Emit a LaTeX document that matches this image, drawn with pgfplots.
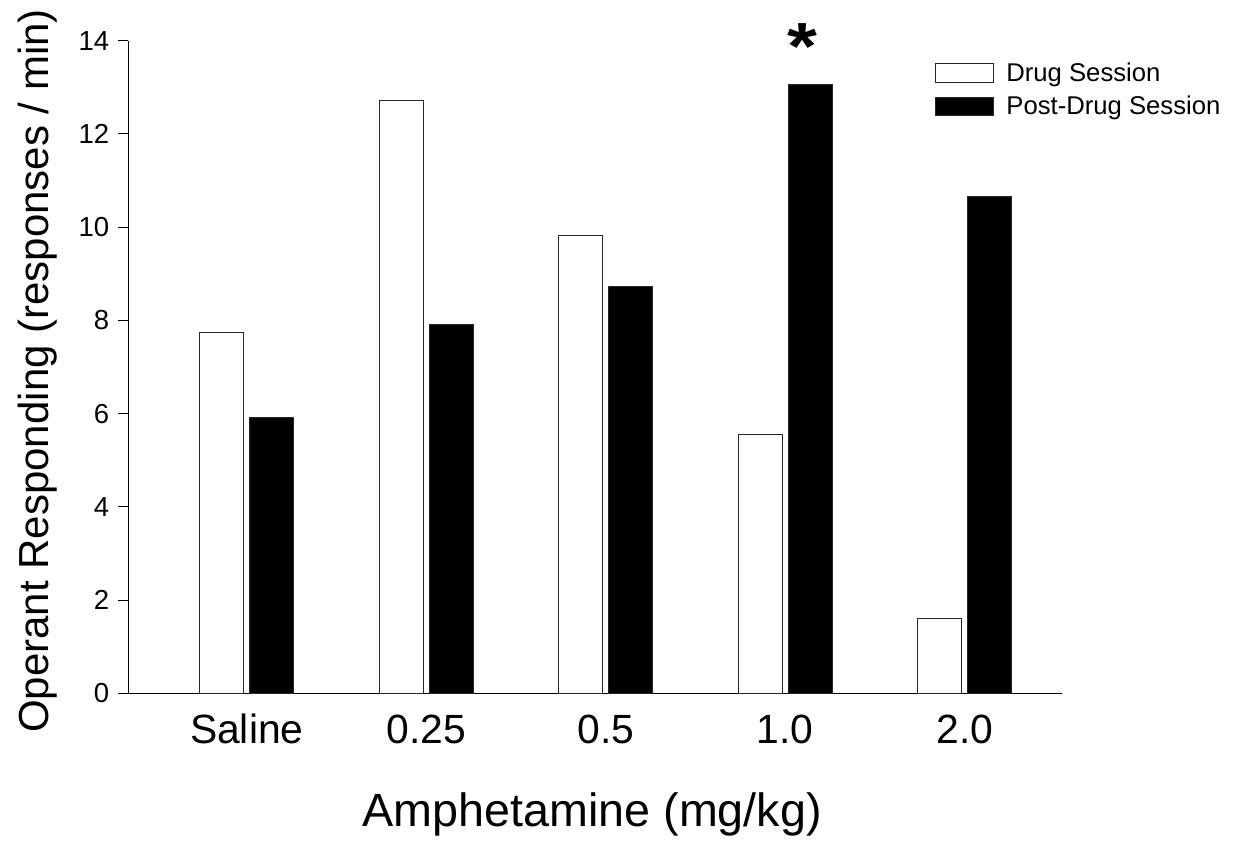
\documentclass[border=0pt]{standalone}
\usepackage{fontspec}
\setmainfont{Liberation Sans}
\usepackage{pgfplots}
\pgfplotsset{compat=1.18}
\begin{document}
\begin{tikzpicture}
% 1 px of the reference = 0.6pt
\path[use as bounding box] (-77pt,-90.4pt) rectangle (662.8pt,416pt);
\begin{axis}[
    at={(0,0)}, anchor=south west,
    scale only axis, width=560pt, height=391.6pt,
    xmin=-0.66, xmax=4.54, ymin=0, ymax=14,
    axis x line*=bottom, axis y line*=left,
    axis line style={-, line width=0.8pt, black},
    xtick={0,1,2,3,4},
    xticklabels={Saline,0.25,0.5,1.0,2.0},
    major x tick style={draw=none},
    ytick={0,2,...,14},
    tick align=outside, major tick length=6pt,
    major y tick style={line width=0.6pt, black},
    /pgf/number format/assume math mode=true,
    yticklabel style={font=\fontsize{16.5}{19}\selectfont, xshift=-2pt},
    xticklabel style={font=\fontsize{24.5}{28}\selectfont, anchor=base, yshift=-24pt},
    xlabel={Amphetamine (mg/kg)},
    ylabel={Operant Responding (responses / min)},
    xlabel style={font=\fontsize{28}{32}\selectfont, at={(axis description cs:0.497,-0.185)}, anchor=center},
    ylabel style={font=\fontsize{25.2}{29}\selectfont, at={(axis description cs:-0.0975,0.494)}, anchor=center},
    bar width=26.4pt,
    clip=false,
    legend style={at={(rel axis cs:0.864,0.972)}, anchor=north west, draw=none, fill=none,
        inner sep=0pt, row sep=3.4pt, column sep=5.6pt, font=\fontsize{15.4}{18}\selectfont},
    legend cell align=left,
    legend image code/.code={\draw[#1] (0pt,-5.5pt) rectangle (34.6pt,5.5pt);},
]
\addplot[ybar, bar shift=-15pt, fill=white, draw=black!85, line width=0.6pt] coordinates {
    (0,7.74) (1,12.71) (2,9.83) (3,5.56) (4,1.60)
};
\addlegendentry{Drug Session}
\addplot[ybar, bar shift=15pt, fill=black, draw=black!85, line width=0.6pt] coordinates {
    (0,5.92) (1,7.91) (2,8.73) (3,13.05) (4,10.66)
};
\addlegendentry{Post-Drug Session}
% significance marker
\node[anchor=base, font=\fontsize{46}{46}\selectfont\bfseries] at (axis cs:3.095,13.38) {\scalebox{1}[0.87]{*}};
\end{axis}
\end{tikzpicture}
\end{document}
